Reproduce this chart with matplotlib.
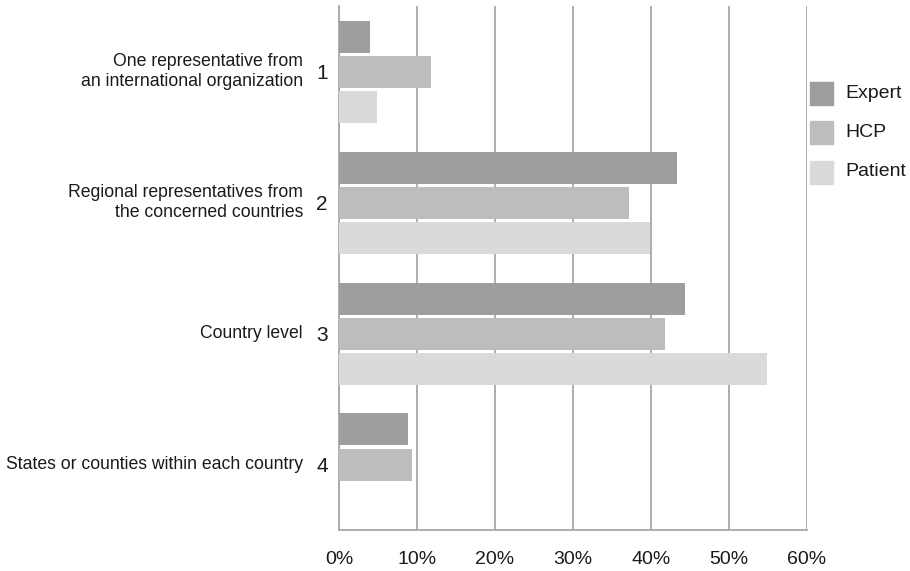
import matplotlib.pyplot as plt
import matplotlib.transforms as mtransforms
from matplotlib.patches import Rectangle
import numpy as np

plt.rcParams['font.family'] = ['Liberation Sans', 'DejaVu Sans']

categories = ["One representative from\nan international organization",
              "Regional representatives from\nthe concerned countries",
              "Country level",
              "States or counties within each country"]
numbers = ["1", "2", "3", "4"]
series = ["Expert", "HCP", "Patient"]
expert = [4.0, 43.3, 44.4, 8.9]
hcp = [11.8, 37.2, 41.8, 9.4]
patient = [4.9, 39.9, 54.9, 0.0]
colors = ["#9e9e9e", "#bcbdbc", "#d9dad9"]

W, H = 910, 571
fig = plt.figure(figsize=(W / 100, H / 100), dpi=100)
ax = fig.add_axes([339 / W, 41 / H, 468 / W, 524 / H])

y = np.arange(len(categories))
step = 35 / 131
height = 32 / 131
for i, vals in enumerate([expert, hcp, patient]):
    ax.barh(y + (i - 1) * step, vals, height=height, color=colors[i], zorder=3)

ax.set_xlim(0, 60)
ax.set_ylim(3.5, -0.5)
ax.set_xticks(np.arange(0, 61, 10))
ax.set_xticklabels([f"{v}%" for v in range(0, 61, 10)], fontsize=14, color="#1a1a1a")
ax.set_yticks(y)
ax.set_yticklabels(numbers, fontsize=15, color="#1a1a1a")
ax.tick_params(axis="y", length=0, pad=8)
ax.tick_params(axis="x", length=0, pad=15)
ax.xaxis.grid(True, color="#a8a8a8", linewidth=1.3, zorder=0)

for side in ["top", "right"]:
    ax.spines[side].set_visible(False)
for side in ["left", "bottom"]:
    ax.spines[side].set_color("#a8a8a8")
    ax.spines[side].set_linewidth(1.3)

# category names sit to the left of the numbered tick labels
trans = mtransforms.blended_transform_factory(ax.transAxes, ax.transData)
for yi, name in zip(y, categories):
    ax.text(-0.077, yi, name, transform=trans, ha="right", va="center",
            multialignment="right", fontsize=12.7, color="#1a1a1a", linespacing=1.3)

# legend boxes on the right
for i, name in enumerate(series):
    cy = 93 + i * 39.5
    fig.add_artist(Rectangle((810 / W, 1 - (cy + 11.5) / H), 23 / W, 23 / H,
                             transform=fig.transFigure, color=colors[i]))
    fig.text(845 / W, 1 - cy / H, name, fontsize=14, color="#1a1a1a", va="center")

fig.savefig("out.png", dpi=100)
